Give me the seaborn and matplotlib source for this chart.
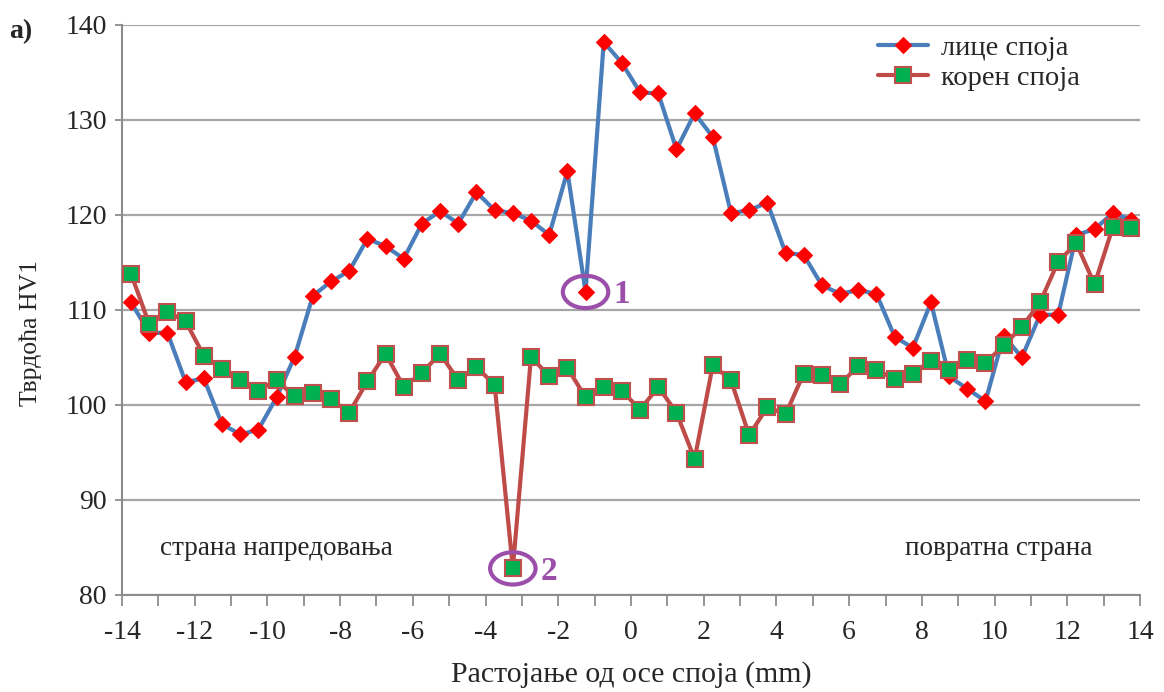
import numpy as np
import pandas as pd
import matplotlib
matplotlib.use("Agg")
import matplotlib.pyplot as plt
from matplotlib.patches import Ellipse
import seaborn as sns

# Measurement positions (mm from the weld axis)
distance = np.arange(-13.75, 14.0, 0.5)

# Hardness HV1 – weld face
face = [110.8, 107.6, 107.6, 102.4, 102.8, 98.0, 96.9, 97.4, 100.8, 105.1,
        111.5, 113.0, 114.1, 117.5, 116.7, 115.4, 119.1, 120.4, 119.1, 122.4,
        120.5, 120.2, 119.4, 117.9, 124.6, 111.9, 138.2, 136.0, 132.9, 132.8,
        126.9, 130.7, 128.2, 120.2, 120.5, 121.3, 116.0, 115.8, 112.6, 111.7,
        112.1, 111.7, 107.2, 106.0, 110.8, 103.0, 101.7, 100.4, 107.3, 105.0,
        109.5, 109.5, 117.9, 118.5, 120.2, 119.5]

# Hardness HV1 – weld root
root = [113.8, 108.5, 109.8, 108.8, 105.2, 103.8, 102.6, 101.5, 102.6, 100.9,
        101.3, 100.6, 99.2, 102.5, 105.4, 101.9, 103.4, 105.4, 102.6, 104.0,
        102.1, 82.8, 105.1, 103.0, 103.9, 100.8, 101.9, 101.5, 99.5, 101.9,
        99.2, 94.3, 104.2, 102.6, 96.8, 99.8, 99.0, 103.3, 103.2, 102.2,
        104.1, 103.7, 102.7, 103.3, 104.6, 103.7, 104.7, 104.4, 106.3, 108.2,
        110.8, 115.1, 117.0, 112.7, 118.7, 118.6]

series_names = ["лице споја", "корен споја"]
x_ticks = list(range(-14, 15, 2))
y_ticks = list(range(80, 141, 10))

# Marked minimum points: (series index, point index, label)
marked = [(0, 25, "1"), (1, 21, "2")]

sns.set_theme(style="white")
plt.rcParams["font.family"] = ["Liberation Serif", "DejaVu Serif"]
plt.rcParams["axes.unicode_minus"] = False

fig = plt.figure(figsize=(11.64, 6.92), dpi=100)
ax = fig.add_axes([0.1048, 0.1402, 0.8746, 0.8237])

df = pd.DataFrame({"x": distance, "face": face, "root": root})

sns.lineplot(data=df, x="x", y="face", ax=ax, color="#4A7EBB", linewidth=3,
             marker="D", markersize=8, markerfacecolor="#FF0000",
             markeredgecolor="#FF0000", markeredgewidth=0.8,
             label=series_names[0], zorder=3)
sns.lineplot(data=df, x="x", y="root", ax=ax, color="#BE4B48", linewidth=3,
             marker="s", markersize=11, markerfacecolor="#00B050",
             markeredgecolor="#C0504D", markeredgewidth=1.5,
             label=series_names[1], zorder=4)

ax.set_xlim(-14, 14)
ax.set_ylim(80, 140)
ax.set_xticks(x_ticks)
ax.set_xticklabels([str(t) for t in x_ticks])
ax.set_xticks(range(-14, 15), minor=True)
ax.set_yticks(y_ticks)
ax.set_yticklabels([str(t) for t in y_ticks])

ax.grid(axis="y", color="#A6A6A6", linewidth=1.6)
ax.grid(axis="x", visible=False)
ax.set_axisbelow(True)
for side in ("top", "right"):
    ax.spines[side].set_visible(False)
for side in ("left", "bottom"):
    ax.spines[side].set_color("#8C8C8C")
    ax.spines[side].set_linewidth(1.5)

ax.tick_params(axis="x", which="both", direction="out", length=8, width=1.3,
               color="#8C8C8C", bottom=True, labelsize=20, pad=10)
ax.tick_params(axis="y", which="both", direction="out", length=5, width=1.3,
               color="#8C8C8C", left=True, labelsize=20, pad=6)

ax.set_xlabel("Растојање од осе споја (mm)", fontsize=21.5)
ax.set_ylabel("Тврдоћа HV1", fontsize=18.5)
ax.xaxis.set_label_coords(0.5, -0.116)
ax.yaxis.set_label_coords(-0.079, 0.46)

ax.legend(loc="upper left", bbox_to_anchor=(0.7426, 0.983), frameon=False,
          fontsize=20.5, handlelength=1.75, labelspacing=0.17,
          handletextpad=0.45, borderpad=0, borderaxespad=0)

# Side annotations
ax.text(-12.95, 84.9, "страна напредовања", fontsize=19.5, va="center", ha="left")
ax.text(12.7, 84.9, "повратна страна", fontsize=19.5, va="center", ha="right")

# Circle and number the two marked minima
purple = "#9B4FAA"
all_series = [face, root]
for s_idx, p_idx, lab in marked:
    px, py = distance[p_idx], all_series[s_idx][p_idx]
    ax.add_patch(Ellipse((px, py), width=1.25, height=3.4, fill=False,
                         edgecolor=purple, linewidth=3, zorder=5))
    ax.annotate(lab, xy=(px, py), xytext=(28, -3), textcoords="offset pixels",
                fontsize=24, fontweight="bold", color=purple,
                va="center", ha="left", zorder=6)

fig.text(0.008, 0.955, "a)", fontsize=20, fontweight="bold", va="center", ha="left")

fig.savefig("out.png", dpi=100)
